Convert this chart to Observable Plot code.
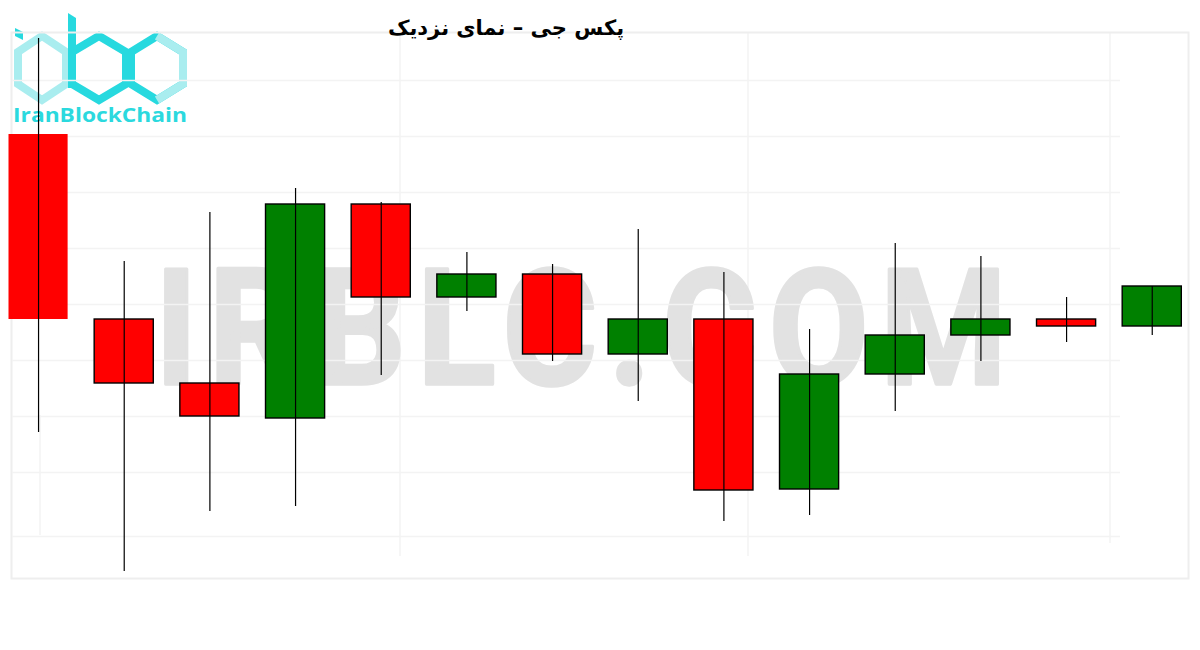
<!DOCTYPE html>
<html>
<head>
<meta charset="utf-8">
<script src="https://cdn.jsdelivr.net/npm/d3@7"></script>
<script src="https://cdn.jsdelivr.net/npm/@observablehq/plot@0.6"></script>
<style>
  body { margin: 0; background: #fff; }
  #wrap { position: relative; width: 1200px; height: 650px; overflow: hidden; }
  #title { position: absolute; left: 506px; top: 16px; transform: translateX(-50%);
           font-family: "DejaVu Sans", sans-serif; font-weight: bold; font-size: 21px;
           color: #000; direction: rtl; white-space: nowrap; z-index: 2; }
</style>
</head>
<body>
<div id="wrap">
  <div id="title">پکس جی – نمای نزدیک</div>
</div>
<script>
// Candles (left to right)
const labels = ["1","2","3","4","5","6","7","8","9","10","11","12","13","14"];
const open  = [2016.5, 1970.25, 1954.25, 1945.5, 1999, 1975.75, 1981.5, 1961.5, 1970.25, 1927.75, 1956.5, 1966.25, 1970.25, 1968.5];
const close = [1970.25, 1954.25, 1946, 1999, 1975.75, 1981.5, 1961.5, 1970.25, 1927.5, 1956.5, 1966.25, 1970.25, 1968.5, 1978.5];
const high  = [2040.5, 1984.75, 1997, 2003, 1999.5, 1987, 1984, 1992.75, 1982, 1967.75, 1989.25, 1986, 1975.75, 1978.5];
const low   = [1942, 1907.25, 1922.25, 1923.5, 1956.25, 1972.25, 1959.75, 1949.75, 1919.75, 1921.25, 1947.25, 1959.75, 1964.5, 1966.25];
// faint horizontal grid levels
const gridLevels = [2030, 2016, 2002, 1988, 1974, 1960, 1946, 1932, 1916];

const data = labels.map((l, i) => ({label: l, open: open[i], close: close[i], high: high[i], low: low[i], idx: i}));

const chart = Plot.plot({
  width: 1200,
  height: 650,
  margin: 0,
  style: {background: "transparent", overflow: "visible"},
  x: {type: "band", domain: labels, range: [8.5, 1181.3], paddingInner: 0.31, paddingOuter: 0, align: 0.5, round: false, axis: null},
  y: {domain: [1900, 2050], range: [600, 0], axis: null},
  marks: [
    Plot.frame({stroke: "#eeeeee", strokeWidth: 2, insetLeft: 11, insetRight: 12, insetTop: 32, insetBottom: 72}),
    Plot.ruleY(gridLevels, {stroke: "#f3f3f3", strokeWidth: 1.5, insetLeft: 12, insetRight: 80}),
    Plot.barY(data, {
      x: "label", y1: "open", y2: "close",
      fill: d => d.close >= d.open ? "#008000" : "#ff0000",
      stroke: "#000", strokeWidth: 1.4,
      strokeOpacity: d => d.idx === 0 ? 0 : 1
    }),
    Plot.ruleX(data, {x: "label", y1: "low", y2: "high", stroke: "#000", strokeWidth: 1.2})
  ]
});

// decorations behind the marks: watermark, logo, faint vertical lines
const ns = "http://www.w3.org/2000/svg";
const deco = document.createElementNS(ns, "g");
deco.setAttribute("text-anchor", "start");
deco.innerHTML = `
  <line x1="400" y1="33" x2="400" y2="556" stroke="#f3f3f3" stroke-width="1.5"/>
  <line x1="748" y1="33" x2="748" y2="556" stroke="#f3f3f3" stroke-width="1.5"/>
  <line x1="1110" y1="33" x2="1110" y2="543" stroke="#f3f3f3" stroke-width="1.5"/>
  <line x1="40" y1="415" x2="40" y2="535" stroke="#f3f3f3" stroke-width="1.5"/>
  <text x="155" y="0" transform="translate(0,384) scale(1,1.12)" text-anchor="start"
        font-family="Roboto, 'Open Sans', sans-serif" font-weight="bold" font-size="145"
        fill="#e2e2e2" stroke="#e2e2e2" stroke-width="3" stroke-linejoin="round"
        textLength="852" lengthAdjust="spacing">IRBLC.COM</text>
  <g fill="none" stroke-width="8" stroke-linejoin="miter">
    <polygon points="42,36 66,52 66,84 42,100 18,84 18,52" stroke="#a9edef"/>
    <polygon points="99,36 126,52 126,84 99,100 72,84 72,52" stroke="#27d9df"/>
    <polygon points="157,36 183,52 183,84 157,100 131,84 131,52" stroke="#27d9df"/>
    <polyline points="157,36 183,52 183,84 157,100" stroke="#a9edef"/>
  </g>
  <polygon points="68,13 76,18 76,88 68,88" fill="#27d9df"/>
  <polygon points="15,28 23,32 23,40 15,36" fill="#27d9df"/>
  <text x="13" y="122" text-anchor="start" font-family="'Open Sans', 'DejaVu Sans', sans-serif" font-weight="bold" font-size="19"
        fill="#2bd9de" textLength="174" lengthAdjust="spacingAndGlyphs">IranBlockChain</text>
`;
const styleEl = chart.querySelector("style");
if (styleEl) chart.insertBefore(deco, styleEl.nextSibling);
else chart.insertBefore(deco, chart.firstChild);

const wrap = document.getElementById("wrap");
chart.style.position = "absolute";
chart.style.left = "0";
chart.style.top = "0";
wrap.appendChild(chart);
</script>
</body>
</html>
